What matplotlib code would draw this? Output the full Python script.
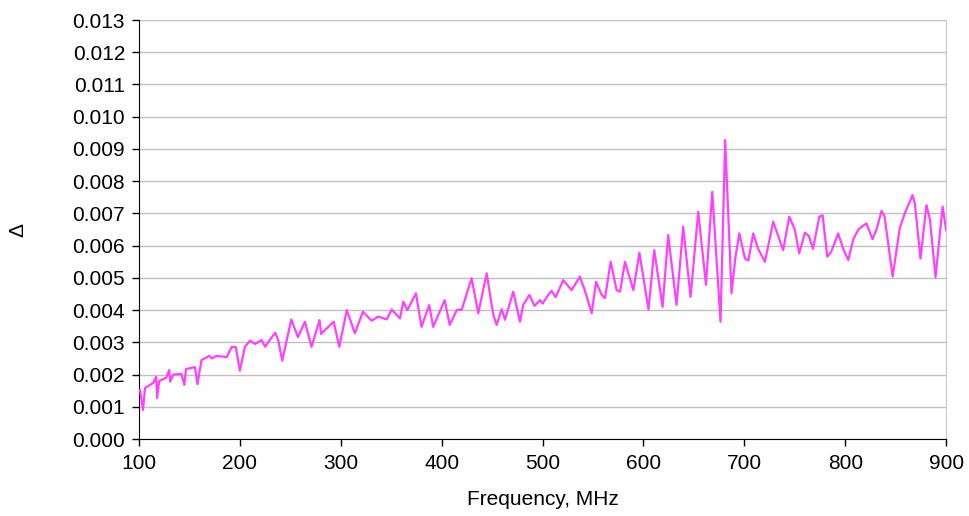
import matplotlib
matplotlib.use("Agg")
import matplotlib.pyplot as plt

# Frequency (MHz) and delta
freq = [101, 104, 106, 114, 117, 118, 120, 127, 130, 131, 134, 142, 145, 146.6, 155.5, 158,
        162, 170, 172, 177, 187, 192, 196, 200, 205, 210, 215, 221.6, 225, 228, 235, 238,
        242, 251, 257.6, 264.5, 271, 279, 280.5, 285, 293, 298.5, 306, 314, 322, 330.6,
        337, 345.5, 350.5, 358.7, 362, 366, 374.5, 380, 387.7, 391.6, 403, 408, 415, 420,
        429.7, 436.3, 444.6, 451.2, 454.5, 459.5, 462.8, 471, 477.6, 480.8, 487, 492,
        497.4, 500, 505.6, 509, 513, 520.5, 528.8, 537, 542, 548.7, 553, 558.6, 561.9,
        567.5, 573.4, 576.8, 581.7, 590, 596, 605, 610.7, 619, 624.5, 632.8, 639.4, 646.7,
        654.3, 662, 668.2, 676.4, 681, 687.3, 691, 695, 700.6, 704, 708.8, 713.7, 720.4,
        728.6, 738.5, 744.5, 750, 754.4, 760, 764, 768, 774.3, 777.6, 782.2, 786, 793,
        798, 803, 808, 813, 817, 821, 827, 831, 836, 839, 847, 854, 859, 866.7, 869,
        874.6, 880.5, 884, 889.5, 896.5, 900]
delta = [0.00152, 0.0009, 0.00158, 0.00174, 0.00193, 0.00127, 0.0018, 0.0019, 0.00214, 0.00178,
         0.0020, 0.00202, 0.00168, 0.00217, 0.00223, 0.0017, 0.00245, 0.00258, 0.0025,
         0.00258, 0.00254, 0.00286, 0.00285, 0.00212, 0.00286, 0.00305, 0.00295, 0.00307,
         0.00286, 0.0030, 0.0033, 0.00308, 0.00243, 0.00371, 0.00316, 0.00364, 0.00286,
         0.00369, 0.00326, 0.0034, 0.00364, 0.00286, 0.0040, 0.00328, 0.00395, 0.00367,
         0.0038, 0.00371, 0.00402, 0.00374, 0.00426, 0.0040, 0.00452, 0.00348, 0.00416,
         0.00348, 0.00431, 0.00354, 0.0040, 0.00402, 0.00499, 0.0039, 0.00514, 0.00385,
         0.00354, 0.00403, 0.0037, 0.00457, 0.00364, 0.00416, 0.00447, 0.00413, 0.00431,
         0.0042, 0.00447, 0.0046, 0.0044, 0.00493, 0.00462, 0.00504, 0.0046, 0.0039,
         0.00488, 0.00447, 0.00437, 0.0055, 0.00462, 0.00457, 0.0055, 0.00462, 0.00578,
         0.00402, 0.00586, 0.0041, 0.00633, 0.00416, 0.00659, 0.00441, 0.00705, 0.00478,
         0.00767, 0.00364, 0.00928, 0.00452, 0.0056, 0.00638, 0.0056, 0.00554, 0.00638,
         0.0059, 0.0055, 0.00674, 0.00586, 0.0069, 0.0065, 0.00576, 0.0064, 0.0063, 0.0059,
         0.0069, 0.00694, 0.00566, 0.0058, 0.00638, 0.0059, 0.00555, 0.0062, 0.0065, 0.0066,
         0.00669, 0.0062, 0.0065, 0.00708, 0.0069, 0.00504, 0.00654, 0.0070, 0.00757,
         0.0073, 0.0056, 0.00726, 0.0068, 0.00502, 0.00721, 0.00648]

x_ticks = [100, 200, 300, 400, 500, 600, 700, 800, 900]
y_ticks = [i / 1000 for i in range(14)]

plt.rcParams["font.family"] = ["Liberation Sans", "DejaVu Sans"]

fig = plt.figure(figsize=(9.69, 5.16), dpi=100)
ax = fig.add_axes([0.1434, 0.1492, 0.8330, 0.8120])

ax.plot(freq, delta, color="#ff40ff", linewidth=1.6, zorder=3)

ax.set_xlim(100, 900)
ax.set_ylim(0, 0.013)
ax.set_xticks(x_ticks)
ax.set_yticks(y_ticks)
ax.set_yticklabels([f"{t:.3f}" for t in y_ticks])
ax.tick_params(axis="both", labelsize=15, direction="out", length=5, width=1, color="black")
ax.tick_params(axis="y", pad=5)
ax.tick_params(axis="x", pad=6)

ax.grid(axis="y", color="#c0c0c0", linewidth=1, zorder=0)
ax.set_axisbelow(True)

ax.spines["top"].set_visible(False)
ax.spines["right"].set_color("#c8c8c8")
ax.spines["left"].set_color("black")
ax.spines["bottom"].set_color("black")

ax.set_xlabel("Frequency, MHz", fontsize=15, labelpad=12)
ax.set_ylabel("Δ", fontsize=15, labelpad=32)

fig.savefig("out.png", dpi=100)
